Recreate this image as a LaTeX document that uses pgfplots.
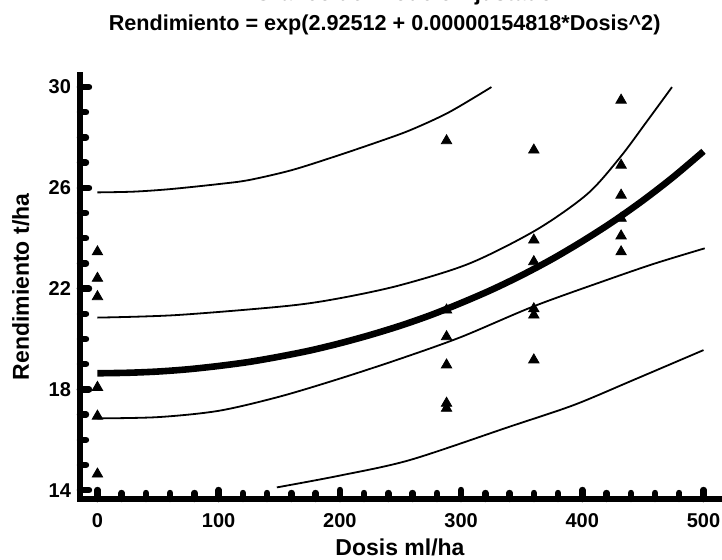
\documentclass[border=0pt]{standalone}
\usepackage{fontspec}
\setmainfont{Liberation Sans}
\usepackage{pgfplots}
\pgfplotsset{compat=1.18}

\begin{document}
\begin{tikzpicture}
\useasboundingbox (0,0) rectangle (361pt,280pt);
\clip (0,0) rectangle (361pt,280pt);
\begin{axis}[
    at={(40pt,30.5pt)}, anchor=south west,
    scale only axis, width=320pt, height=212pt,
    xmin=-14.4, xmax=513.6, ymin=13.65, ymax=30.48,
    axis lines*=left,
    axis line style={line width=3pt, line cap=rect},
    xtick={0,100,...,500}, minor xtick={0,20,...,500},
    ytick={14,18,...,30}, minor ytick={14,15,...,30},
    tick align=inside,
    major tick length=4.5pt, minor tick length=3pt,
    tick style={black, line width=3.2pt, line cap=round},
    /pgf/number format/assume math mode=true,
    ticklabel style={font=\bfseries\fontsize{10}{12}\selectfont},
    xticklabel style={yshift=-3.5pt},
    yticklabel style={xshift=-1pt},
    xlabel={Dosis ml/ha},
    xlabel style={at={(axis description cs:0.5,-0.1344)}, anchor=base,
        font=\bfseries\fontsize{11.5}{14}\selectfont},
    ylabel={Rendimiento t/ha},
    ylabel style={at={(axis description cs:-0.0797,0.5)}, anchor=base,
        font=\bfseries\fontsize{11.5}{14}\selectfont},
    every axis title shift=0pt,
    title={Rendimiento = exp(2.92512 + 0.00000154818*Dosis\textasciicircum 2)},
    title style={at={(axis description cs:0.476,1.1038)}, anchor=base,
        font=\bfseries\fontsize{10.8}{13}\selectfont},
]

% observaciones
\addplot[only marks, mark=triangle*, mark size=3pt, black] coordinates {
    (0,23.46) (0,22.41) (0,21.68) (0,18.08) (0,16.94) (0,14.64)
    (288,27.87) (288,21.15) (288,20.09) (288,18.97) (288,17.45) (288,17.25)
    (360,27.50) (360,23.93) (360,23.07) (360,21.20) (360,20.95) (360,19.17)
    (432,29.48) (432,26.90) (432,25.71) (432,24.79) (432,24.09) (432,23.46)
};

% limites de prediccion
\addplot[black, line width=0.9pt, smooth] coordinates {
    (0,25.82) (30,25.85) (60,25.95) (100,26.15) (125,26.31) (160,26.70)
    (195,27.23) (230,27.80) (258,28.29) (290,29.00) (325,30.00)
};
\addplot[black, line width=0.9pt, smooth] coordinates {
    (148,14.11) (200,14.58) (258,15.20) (340,16.52) (393,17.38) (442,18.37) (500,19.56)
};

% limites de confianza
\addplot[black, line width=0.9pt, smooth] coordinates {
    (0,20.85) (65,20.95) (156,21.31) (200,21.62) (250,22.14) (307,23.00)
    (362,24.33) (404,25.75) (431,27.20) (453,28.62) (474,30.00)
};
\addplot[black, line width=0.9pt, smooth] coordinates {
    (0,16.85) (50,16.90) (100,17.15) (150,17.71) (200,18.43) (250,19.22)
    (300,20.08) (360,21.30) (420,22.34) (460,23.00) (501,23.60)
};

% modelo ajustado
\addplot[black, line width=3.3pt, smooth] coordinates {
    (0,18.64) (25,18.66) (50,18.71) (75,18.80) (100,18.93) (125,19.09)
    (150,19.30) (175,19.54) (200,19.83) (225,20.16) (250,20.53) (275,20.95)
    (300,21.43) (325,21.95) (350,22.53) (375,23.17) (400,23.88) (425,24.65)
    (450,25.50) (475,26.43) (500,27.45)
};
\end{axis}
\node[anchor=base, font=\bfseries\fontsize{11}{13}\selectfont] at (202pt,279.6pt)
    {Gráfico del Modelo Ajustado};
\end{tikzpicture}
\end{document}
